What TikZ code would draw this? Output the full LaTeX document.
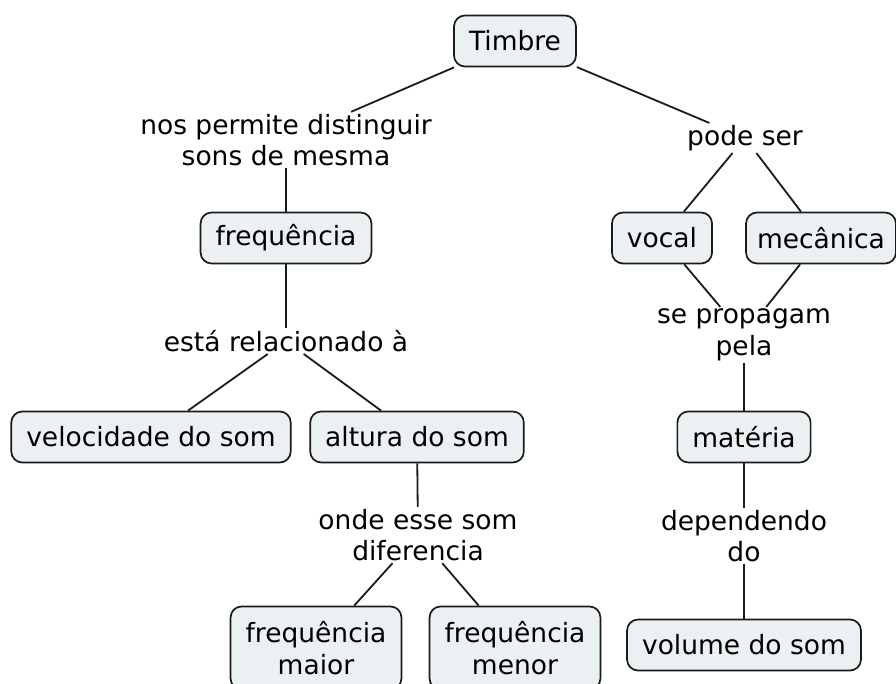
\documentclass[tikz,border=0pt]{standalone}
\usepackage{fontspec}
\setmainfont{DejaVu Sans}
\definecolor{boxfill}{HTML}{EBF1F3}
\definecolor{ink}{HTML}{1A1A1A}

\begin{document}
\begin{tikzpicture}[x=1pt,y=-1pt,
 concept/.style={draw=ink,fill=boxfill,rounded corners=11pt,line width=1.7pt,
  align=center,inner xsep=15pt,inner ysep=11pt,minimum height=51pt,font=\fontsize{26.5}{31.5}\selectfont},
 phrase/.style={align=center,inner sep=2pt,font=\fontsize{26.5}{31.5}\selectfont},
 link/.style={draw=ink,line width=1.8pt}]
\useasboundingbox (0,0) rectangle (896,684);
\node [concept] (timbre) at (515,41) {Timbre};
\node [phrase] (distinguir) at (286,140) {nos permite distinguir\\sons de mesma};
\node [phrase] (podeser) at (745,138) {pode ser};
\node [concept] (frequencia) at (286,238) {frequência};
\node [concept] (vocal) at (662,238) {vocal};
\node [concept,inner xsep=11pt] (mecanica) at (821,238) {mecânica};
\node [phrase] (propagam) at (744,335) {se propagam\\pela};
\node [phrase] (relacionado) at (286,341) {está relacionado à};
\node [concept] (velocidade) at (151,437) {velocidade do som};
\node [concept] (altura) at (417,437) {altura do som};
\node [concept] (materia) at (744,437) {matéria};
\node [phrase] (diferencia) at (418,535) {onde esse som\\diferencia};
\node [phrase] (dependendo) at (744,536) {dependendo\\do};
\node [concept,inner ysep=15pt] (maior) at (316,648) {frequência\\maior};
\node [concept,inner ysep=15pt] (menor) at (515,648) {frequência\\menor};
\node [concept] (volume) at (744,645) {volume do som};
\path [link] (timbre) -- (distinguir);
\path [link] (timbre) -- (podeser);
\path [link] (distinguir) -- (frequencia);
\path [link] (podeser) -- (vocal);
\path [link] (podeser) -- (mecanica);
\path [link] (vocal) -- (propagam);
\path [link] (mecanica) -- (propagam);
\path [link] (propagam) -- (materia);
\path [link] (frequencia) -- (relacionado);
\path [link] (relacionado) -- (velocidade);
\path [link] (relacionado) -- (altura);
\path [link] (altura) -- (diferencia);
\path [link] (diferencia) -- (maior);
\path [link] (diferencia) -- (menor);
\path [link] (materia) -- (dependendo);
\path [link] (dependendo) -- (volume);
\end{tikzpicture}
\end{document}
